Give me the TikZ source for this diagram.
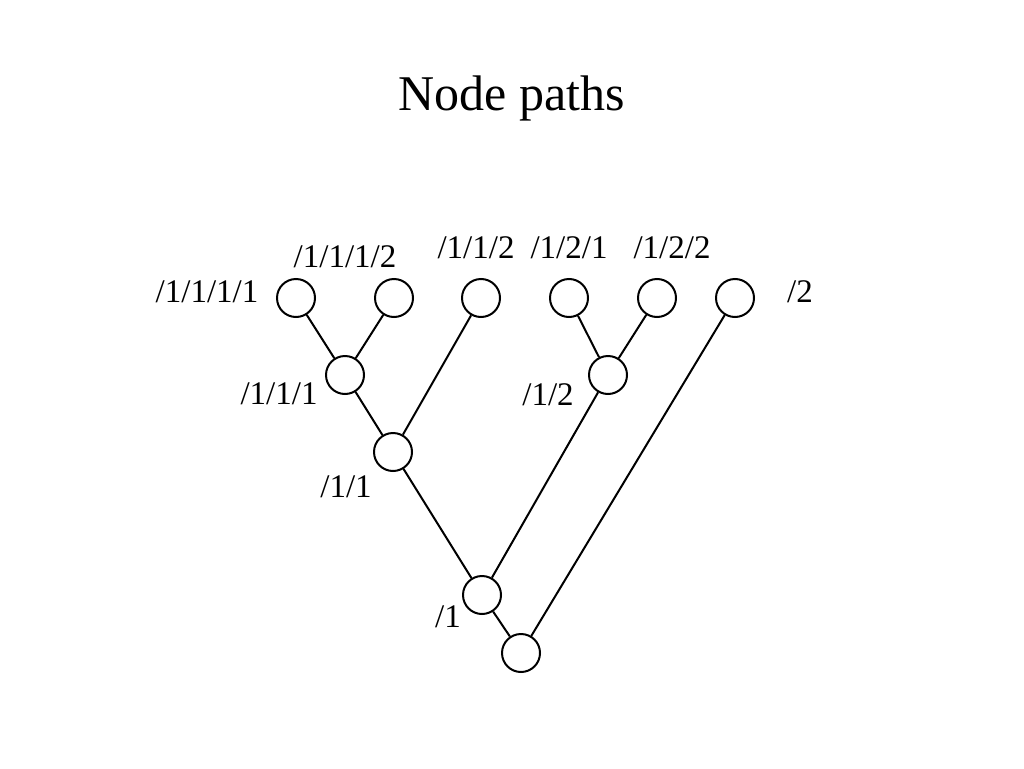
\documentclass[tikz,border=0pt]{standalone}
\usepackage{fontspec}
\setmainfont{Liberation Serif}
\begin{document}
\begin{tikzpicture}[x=1pt,y=-1pt,
  tnode/.style={circle,draw,line width=2pt,minimum size=38pt,inner sep=0pt},
  edge/.style={line width=2pt},
  lbl/.style={anchor=base,inner sep=0pt,font=\fontsize{33}{38}\selectfont},
  ttl/.style={anchor=base,inner sep=0pt,font=\fontsize{50}{58}\selectfont}]
\useasboundingbox[fill=white] (0,0) rectangle (1024,768);
\node[ttl] (title) at (512,110) {Node paths};
% tree nodes
\node[tnode] (n1111) at (296,298) {};
\node[tnode] (n1112) at (394,298) {};
\node[tnode] (n112) at (481,298) {};
\node[tnode] (n121) at (569,298) {};
\node[tnode] (n122) at (657,298) {};
\node[tnode] (n2) at (735,298) {};
\node[tnode] (n111) at (345,375) {};
\node[tnode] (n12) at (608,375) {};
\node[tnode] (n11) at (393,452) {};
\node[tnode] (n1) at (482,595) {};
\node[tnode] (root) at (521,653) {};
% edges
\draw[edge] (n1111) -- (n111);
\draw[edge] (n1112) -- (n111);
\draw[edge] (n111) -- (n11);
\draw[edge] (n112) -- (n11);
\draw[edge] (n121) -- (n12);
\draw[edge] (n122) -- (n12);
\draw[edge] (n11) -- (n1);
\draw[edge] (n12) -- (n1);
\draw[edge] (n1) -- (root);
\draw[edge] (n2) -- (root);
% labels
\node[lbl] (l1111) at (207,302) {/1/1/1/1};
\node[lbl] (l1112) at (345,267) {/1/1/1/2};
\node[lbl] (l112) at (476,258) {/1/1/2};
\node[lbl] (l121) at (569,258) {/1/2/1};
\node[lbl] (l122) at (672,258) {/1/2/2};
\node[lbl] (l2) at (800,302) {/2};
\node[lbl] (l111) at (279,404) {/1/1/1};
\node[lbl] (l12) at (548,405) {/1/2};
\node[lbl] (l11) at (346,497) {/1/1};
\node[lbl] (l1) at (448,627) {/1};
\end{tikzpicture}
\end{document}
